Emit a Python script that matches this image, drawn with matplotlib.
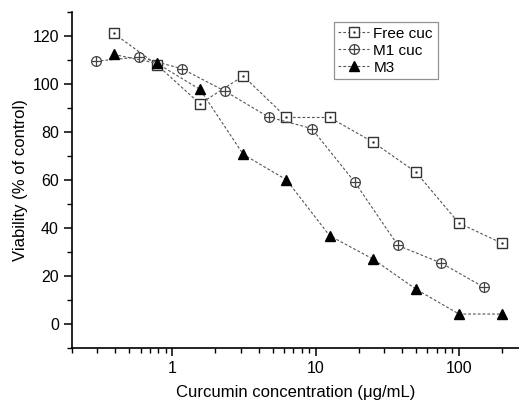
import numpy as np
import matplotlib
matplotlib.use("Agg")
import matplotlib.pyplot as plt
from matplotlib.ticker import LogLocator, MultipleLocator, FixedLocator, NullFormatter

plt.rcParams['font.family'] = ['Liberation Sans', 'DejaVu Sans']

# concentrations (ug/mL)
conc_free = [0.39, 0.78, 1.56, 3.125, 6.25, 12.5, 25, 50, 100, 200]
conc_m1 = [0.293, 0.586, 1.17, 2.34, 4.69, 9.375, 18.75, 37.5, 75, 150]
conc_m3 = [0.39, 0.78, 1.56, 3.125, 6.25, 12.5, 25, 50, 100, 200]

# viability (% of control)
via_free = [121.1, 108.0, 91.7, 103.3, 86.0, 86.0, 75.8, 63.2, 41.9, 33.5]
via_m1 = [109.5, 111.2, 106.3, 96.9, 86.2, 81.4, 59.0, 32.6, 25.3, 15.1]
via_m3 = [112.3, 108.6, 97.7, 70.6, 60.0, 36.7, 27.0, 14.4, 4.0, 4.0]

fig = plt.figure(figsize=(5.19, 4.00), dpi=100)
ax = fig.add_axes([0.139, 0.131, 0.861, 0.839])

ls = dict(color='#555555', lw=0.8, dashes=(2.5, 1.8))
sq, = ax.plot(conc_free, via_free, marker='s', ms=6.5, mfc='white', mec='#333333', mew=1.0, **ls)
sq_dot, = ax.plot(conc_free, via_free, ls='none', marker='.', ms=1.5, color='#333333')
c1, = ax.plot(conc_m1, via_m1, marker='o', ms=7, mfc='white', mec='#444444', mew=0.9, **ls)
c1_plus, = ax.plot(conc_m1, via_m1, ls='none', marker='+', ms=7, mec='#444444', mew=0.9)
tri, = ax.plot(conc_m3, via_m3, marker='^', ms=7.5, mfc='black', mec='black', **ls)

ax.set_xscale('log')
ax.set_xlim(0.2, 262)
ax.set_ylim(-10, 130)

ax.spines['top'].set_visible(False)
ax.spines['right'].set_visible(False)
for s in ['left', 'bottom']:
    ax.spines[s].set_linewidth(1.2)

ax.xaxis.set_major_locator(FixedLocator([1, 10, 100]))
ax.set_xticklabels(['1', '10', '100'])
ax.xaxis.set_minor_locator(LogLocator(base=10, subs=np.arange(2, 10)))
ax.xaxis.set_minor_formatter(NullFormatter())
ax.yaxis.set_major_locator(MultipleLocator(20))
ax.yaxis.set_minor_locator(MultipleLocator(10))
ax.set_yticks([0, 20, 40, 60, 80, 100, 120])

ax.tick_params(which='major', direction='out', length=6, width=1.1, labelsize=11.5)
ax.tick_params(which='minor', direction='out', length=3.5, width=1.0)
ax.tick_params(axis='x', which='major', pad=4)

ax.set_xlabel('Curcumin concentration (\u03bcg/mL)', fontsize=12, labelpad=6)
ax.set_ylabel('Viability (% of control)', fontsize=12, labelpad=3)

leg = ax.legend([(sq, sq_dot), (c1, c1_plus), tri], ['Free cuc', 'M1 cuc', 'M3'],
                loc='upper left', bbox_to_anchor=(0.643, 0.945), bbox_transform=fig.transFigure,
                fontsize=11, frameon=True, fancybox=False, handlelength=2.0,
                handletextpad=0.3, borderpad=0.3, labelspacing=0.2, borderaxespad=0)
leg.get_frame().set_edgecolor('#777777')
leg.get_frame().set_linewidth(0.9)

fig.savefig('out.png', dpi=100)
